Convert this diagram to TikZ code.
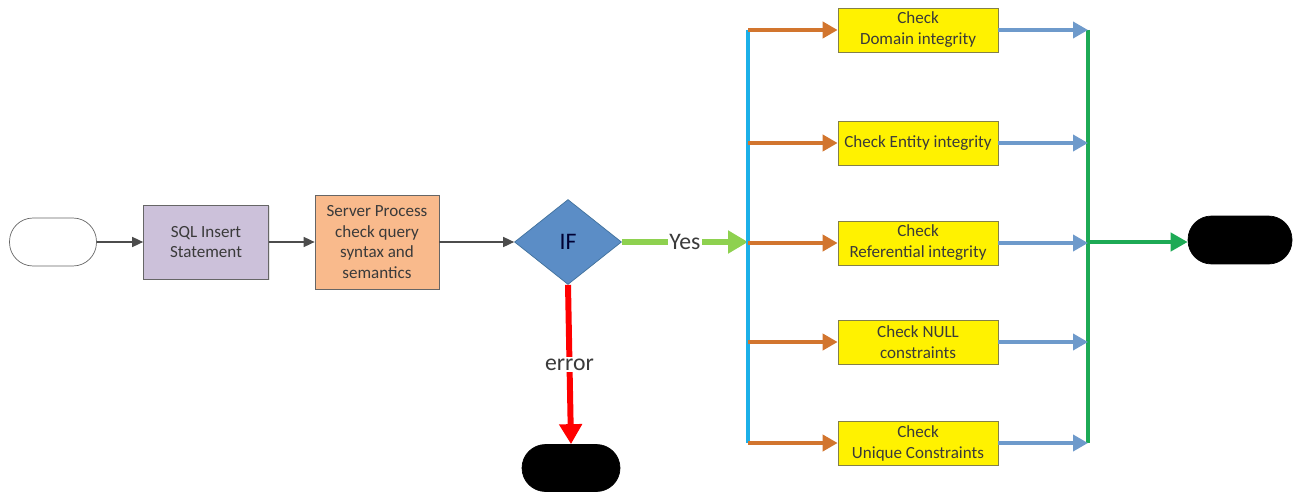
\documentclass[tikz,border=0pt]{standalone}
\usepackage{fontspec}
\setmainfont{Carlito}
\usepackage{xcolor}
\usetikzlibrary{arrows.meta,positioning,shapes.geometric,shadows}
\definecolor{sqlfill}{HTML}{CCC1DA}
\definecolor{srvfill}{HTML}{F9BA8C}
\definecolor{iffill}{HTML}{5B8DC6}
\definecolor{ifdraw}{HTML}{41719C}
\definecolor{fanorange}{HTML}{D2752E}
\definecolor{busblue}{HTML}{1CB0E8}
\definecolor{outblue}{HTML}{6E9ACB}
\definecolor{joingreen}{HTML}{1DAA55}
\definecolor{yesgreen}{HTML}{8ED14F}
\definecolor{txtgray}{HTML}{3A3A3A}

\begin{document}
\begin{tikzpicture}[x=0.02cm, y=-0.02cm,
  box/.style={draw=gray!80!black, align=center, text=txtgray, inner sep=2pt,
              font=\fontsize{9.7}{11.9}\selectfont,
              drop shadow={opacity=0.2, shadow xshift=0.7pt, shadow yshift=-0.7pt}},
  chk/.style={box, fill=yellow, draw=black!55!yellow, minimum width=3.2cm, minimum height=0.88cm},
  term/.style={draw, rounded corners=4.7mm, minimum width=1.9cm, minimum height=0.96cm, inner sep=0pt},
  decision/.style={diamond, draw=ifdraw, fill=iffill, minimum width=2.14cm, minimum height=1.7cm,
                   inner sep=0pt, text=black!80!blue, font=\fontsize{13.5}{15}\selectfont},
  flow/.style={-{Triangle[length=2.2mm, width=2mm]}, draw=black!70, line width=0.9pt},
  fanarr/.style={-{Triangle[length=3mm, width=3.2mm]}, draw=fanorange, line width=2.2pt},
  joinarr/.style={-{Triangle[length=3mm, width=3.2mm]}, draw=outblue, line width=2.4pt},
  bus/.style={line width=2.4pt},
  lbl/.style={fill=white, inner sep=1pt, text=txtgray, font=\fontsize{13.5}{15}\selectfont}
]
\useasboundingbox (0,0) rectangle (1300,493);

% main line
\node[term, fill=white, draw=gray!80!black, minimum width=1.74cm] (start) at (53,242) {};
\node[box, fill=sqlfill, minimum width=2.5cm, minimum height=1.48cm] (sql) at (206,242) {SQL Insert\\Statement};
\node[box, fill=srvfill, minimum width=2.48cm, minimum height=1.88cm] (srv) at (377,242) {Server Process\\check query\\syntax and\\semantics};
\node[decision] (if) at (568,242) {IF};
\node[term, fill=black, minimum width=1.96cm, minimum height=0.94cm] (errend) at (571,468) {};
\node[term, fill=black, minimum width=2.08cm] (done) at (1240,240) {};

% checks
\node[chk] (chk1) at (918,30) {Check\\Domain integrity};
\node[chk] (chk2) at (918,143) {Check Entity integrity};
\node[chk] (chk3) at (918,243) {Check\\Referential integrity};
\node[chk] (chk4) at (918,342) {Check NULL\\constraints};
\node[chk] (chk5) at (918,443) {Check\\Unique Constraints};

\coordinate (split) at (748,242);
\coordinate (bustop) at (748,30);
\coordinate (busbot) at (748,443);
\coordinate (join) at (1088,242);
\coordinate (jointop) at (1088,30);
\coordinate (joinbot) at (1088,443);

\draw[flow] (start) -- (sql);
\draw[flow] (sql) -- (srv);
\draw[flow] (srv) -- (if);
\draw[-{Triangle[length=4mm, width=4.4mm]}, yesgreen, line width=3.4pt] (if.east) -- node[lbl] {Yes} (split);
\draw[-{Triangle[length=4mm, width=4.4mm]}, red, line width=3.4pt] (if.south) -- node[lbl] {error} (errend.north);

\draw[bus, busblue] (bustop) -- (busbot);
\draw[bus, joingreen] (jointop) -- (joinbot);
\foreach \i in {1,...,5} {
  \draw[fanarr] (chk\i.west -| bustop) -- (chk\i.west);
  \draw[joinarr] (chk\i.east) -- (chk\i.east -| jointop);
}
\draw[-{Triangle[length=3.4mm, width=3.6mm]}, joingreen, line width=2.4pt] (join) -- (join -| done.west);
\end{tikzpicture}
\end{document}
